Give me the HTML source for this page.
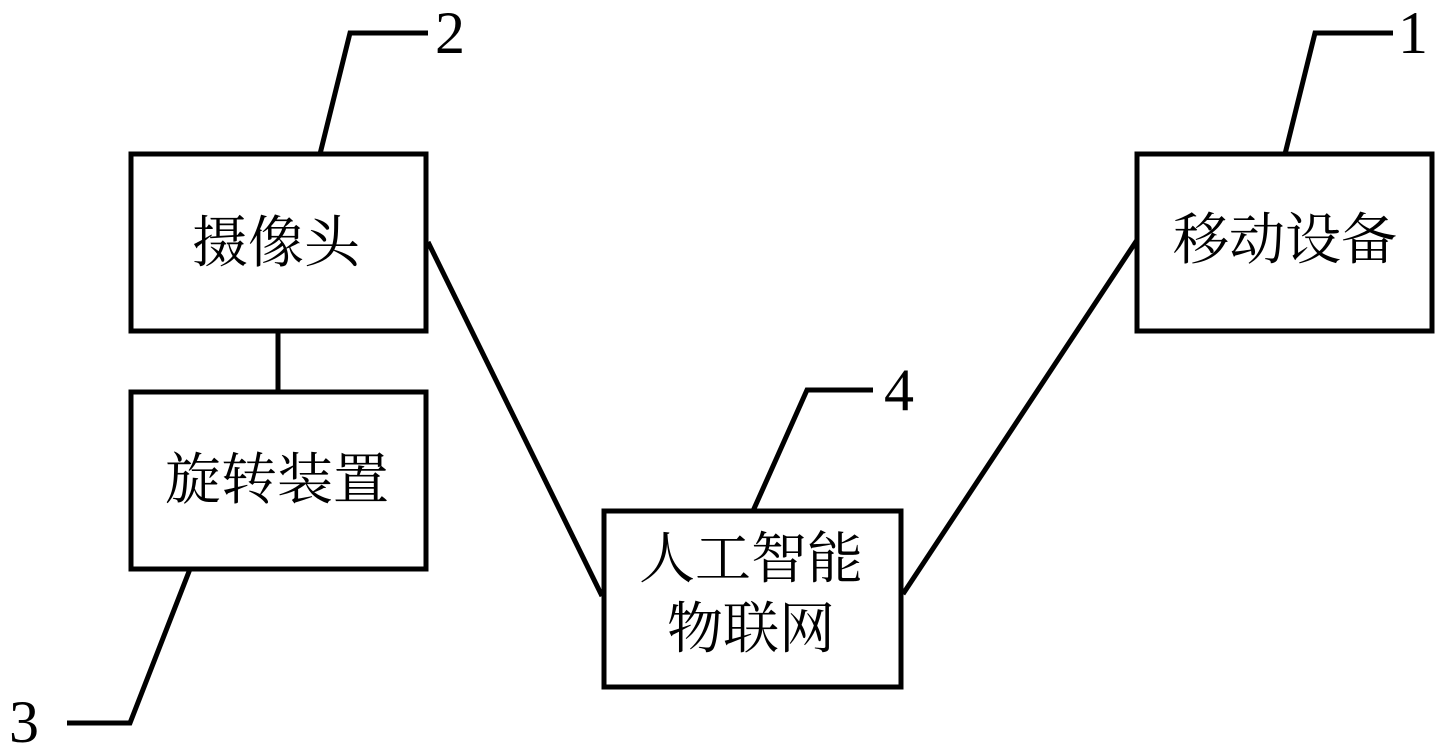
<!DOCTYPE html>
<html>
<head>
<meta charset="utf-8">
<style>
  html, body { margin: 0; padding: 0; background: #fff; }
  body { width: 1450px; height: 756px; overflow: hidden; }
  svg { display: block; }
  .cn { font-family: "Liberation Serif", "Noto Serif CJK SC", "Noto Sans CJK SC", serif; font-size: 56px; fill: #000; }
  .num { font-family: "Liberation Serif", serif; font-size: 60px; fill: #000; }
</style>
</head>
<body>
<svg width="1450" height="756" viewBox="0 0 1450 756" xmlns="http://www.w3.org/2000/svg">
  <g fill="none" stroke="#000" stroke-width="5" stroke-linejoin="miter">
    <!-- boxes -->
    <rect x="131" y="154" width="295" height="177"/>
    <rect x="131" y="392" width="295" height="177"/>
    <rect x="604" y="511" width="297" height="176"/>
    <rect x="1137" y="154" width="295" height="177"/>
    <!-- connectors -->
    <line x1="278" y1="331" x2="278" y2="392"/>
    <line x1="428" y1="242" x2="602" y2="596"/>
    <line x1="903" y1="594" x2="1137" y2="240"/>
    <!-- leaders -->
    <polyline points="320,154 350,33 428,33"/>
    <polyline points="1285,154 1315,33 1393,33"/>
    <polyline points="753,511 807,390 873,390"/>
    <polyline points="190,569 130,723 67,723"/>
  </g>
  <!-- labels -->
  <text class="cn" x="276" y="262" text-anchor="middle">摄像头</text>
  <text class="cn" x="277" y="499" text-anchor="middle">旋转装置</text>
  <text class="cn" x="1285" y="259" text-anchor="middle">移动设备</text>
  <text class="cn" x="751" y="578" text-anchor="middle">人工智能</text>
  <text class="cn" x="751" y="648" text-anchor="middle">物联网</text>
  <!-- numbers -->
  <text class="num" x="435" y="53">2</text>
  <text class="num" x="1398" y="53">1</text>
  <text class="num" x="884" y="410">4</text>
  <text class="num" x="9" y="742">3</text>
</svg>
</body>
</html>
